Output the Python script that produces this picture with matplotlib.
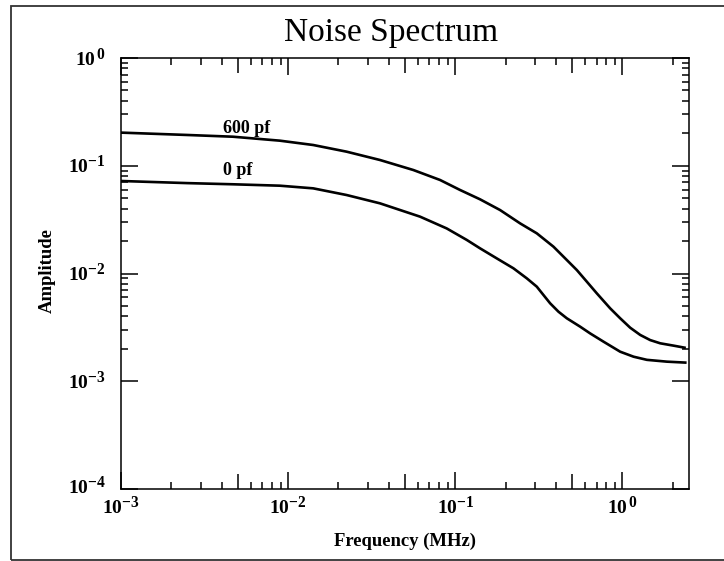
import matplotlib
matplotlib.use("Agg")
import matplotlib.pyplot as plt
from matplotlib.patches import Rectangle
from matplotlib.ticker import FixedLocator, NullFormatter
from matplotlib.transforms import ScaledTranslation

try:
    import matplotlib._mathtext as _mt
    _mt.SHRINK_FACTOR = 0.8
except Exception:
    pass

# ---- data ----
freq_600 = [0.001, 0.0025, 0.00467, 0.00892, 0.01412, 0.02236, 0.0354, 0.05607, 0.0810,
            0.1067, 0.1406, 0.1853, 0.2440, 0.3071, 0.3865, 0.4645, 0.5331, 0.6118,
            0.7024, 0.8440, 0.9689, 1.112, 1.277, 1.465, 1.682, 2.022, 2.35]
amp_600 = [0.203, 0.193, 0.186, 0.1709, 0.1558, 0.1351, 0.1131, 0.0913, 0.0738,
           0.0596, 0.0488, 0.0388, 0.0292, 0.0236, 0.01774, 0.01334, 0.01077, 0.00840,
           0.00654, 0.00475, 0.00384, 0.00314, 0.00269, 0.00241, 0.00225, 0.00214, 0.00205]

freq_0 = [0.001, 0.0025, 0.00467, 0.00892, 0.01412, 0.02236, 0.0354, 0.0615, 0.0888,
          0.1170, 0.1406, 0.1769, 0.2227, 0.2676, 0.3071, 0.3366, 0.3691, 0.4141,
          0.4645, 0.5582, 0.6405, 0.7700, 0.9689, 1.165, 1.400, 1.844, 2.375]
amp_0 = [0.0722, 0.0690, 0.0673, 0.0653, 0.0617, 0.0535, 0.0448, 0.0337, 0.0262,
         0.0205, 0.01712, 0.01382, 0.01117, 0.00902, 0.00755, 0.00632, 0.00529, 0.00442,
         0.00384, 0.00321, 0.00278, 0.00233, 0.00188, 0.00169, 0.00158, 0.00152, 0.00149]

x_major = [1e-3, 1e-2, 1e-1, 1e0]
x_labels = [r'$\mathbf{10^{-3}}$', r'$\mathbf{10^{-2}}$', r'$\mathbf{10^{-1}}$', r'$\mathbf{10^{\,0}}$']
x_mid = [5e-3, 5e-2, 5e-1]
y_major = [1e-4, 1e-3, 1e-2, 1e-1, 1e0]
y_labels = [r'$\mathbf{10^{-4}}$', r'$\mathbf{10^{-3}}$', r'$\mathbf{10^{-2}}$',
            r'$\mathbf{10^{-1}}$', r'$\mathbf{10^{\,0}}$']

title = "Noise Spectrum"
xlabel = "Frequency (MHz)"
ylabel = "Amplitude"
label_600 = "600 pf"
label_0 = "0 pf"

# ---- style ----
plt.rcParams['font.family'] = ['Liberation Serif', 'DejaVu Serif']
plt.rcParams['mathtext.fontset'] = 'custom'
plt.rcParams['mathtext.rm'] = 'Liberation Serif'
plt.rcParams['mathtext.bf'] = 'Liberation Serif:bold'
plt.rcParams['mathtext.it'] = 'Liberation Serif:italic'

fig = plt.figure(figsize=(7.24, 5.61), dpi=100)
fig.patches.append(Rectangle((11 / 724, 1 - 560 / 561), 1.0, (560 - 6) / 561,
                             transform=fig.transFigure, fill=False,
                             edgecolor='#333333', linewidth=1.3))

ax = fig.add_axes([121 / 724, 1 - 489 / 561, (689 - 121) / 724, (489 - 58) / 561])
ax.plot(freq_600, amp_600, color='black', lw=1.9, solid_joinstyle='round')
ax.plot(freq_0, amp_0, color='black', lw=1.9, solid_joinstyle='round')

ax.set_xscale('log')
ax.set_yscale('log')
ax.set_xlim(1e-3, 2.5)
ax.set_ylim(1e-4, 1e0)

for s in ax.spines.values():
    s.set_linewidth(1.1)

# x ticks
xmaj = x_major + x_mid
xmaj_lbl = x_labels + [''] * len(x_mid)
ax.xaxis.set_major_locator(FixedLocator(xmaj))
ax.set_xticklabels(xmaj_lbl)
x_minor = [m * d for d in [1e-3, 1e-2, 1e-1] for m in [2, 3, 4, 6, 7, 8, 9]] + [2.0]
ax.xaxis.set_minor_locator(FixedLocator(x_minor))
ax.xaxis.set_minor_formatter(NullFormatter())

# y ticks
ax.yaxis.set_major_locator(FixedLocator(y_major))
ax.set_yticklabels(y_labels)
y_minor = [m * d for d in [1e-3, 1e-2, 1e-1] for m in range(2, 10)]
ax.yaxis.set_minor_locator(FixedLocator(y_minor))
ax.yaxis.set_minor_formatter(NullFormatter())

ax.tick_params(which='major', direction='in', length=12.2, width=1.1,
               top=True, right=True, labelsize=14)
ax.tick_params(which='minor', direction='in', length=5.0, width=1.1,
               top=True, right=True)
ax.tick_params(axis='x', which='major', pad=4.5)
ax.tick_params(axis='y', which='major', pad=11)

for t, loc in zip(ax.xaxis.get_major_ticks(), xmaj):
    if loc in x_mid:
        t.tick1line.set_markersize(10.8)
        t.tick2line.set_markersize(10.8)

# nudge y tick labels slightly upward, as in the reference
for t, loc in zip(ax.yaxis.get_major_ticks(), y_major):
    dy = 5 if loc == 1e-4 else 2
    t.label1.set_transform(t.label1.get_transform() +
                           ScaledTranslation(0, dy / 100, fig.dpi_scale_trans))

ax.set_xlabel(xlabel, fontsize=13.4, fontweight='bold', labelpad=11)
ax.set_ylabel(ylabel, fontsize=13.4, fontweight='bold')
ax.yaxis.set_label_coords(-(121 - 56) / 568, (489 - 271) / 431)

ax.text(0.00406, 0.203, label_600, fontsize=13, fontweight='bold',
        ha='left', va='baseline')
ax.text(0.00406, 0.082, label_0, fontsize=13, fontweight='bold',
        ha='left', va='baseline')

fig.text(391 / 724, 1 - 41 / 561, title, fontsize=24, ha='center', va='baseline')

fig.savefig('out.png', dpi=100)
